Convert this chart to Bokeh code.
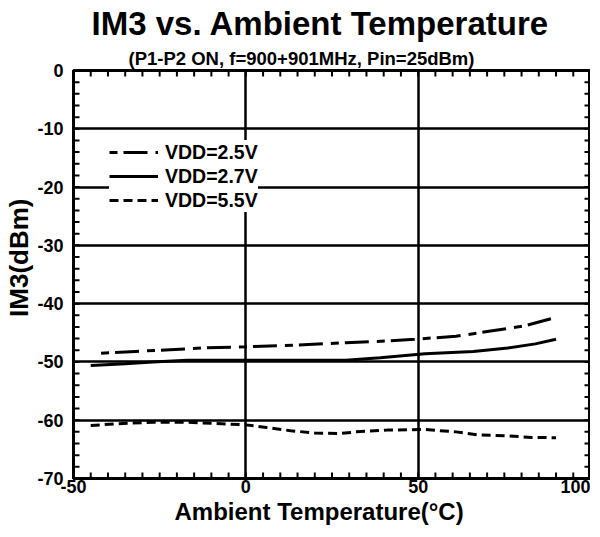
import math
from bokeh.plotting import figure
from bokeh.models import Title, Legend, LegendItem, Range1d, FixedTicker
from bokeh.embed import file_html
from bokeh.resources import INLINE

# ---- data ----
t25 = [-42, -32, -22, -12, 0, 15, 29, 41, 49, 61, 71, 81, 89]
v25 = [-48.5, -48.2, -47.9, -47.6, -47.4, -47.1, -46.7, -46.4, -46.1, -45.6, -44.7, -43.8, -42.5]
t27 = [-45, -35, -27, -17, 0, 29, 39, 52, 66, 76, 84, 90]
v27 = [-50.6, -50.3, -50.0, -49.7, -49.7, -49.7, -49.3, -48.6, -48.2, -47.6, -46.9, -46.1]
t55 = [-45, -37, -27, -17, -7, 0, 6, 13, 20, 27, 32, 41, 52, 61, 67, 76, 83, 90]
v55 = [-60.9, -60.6, -60.35, -60.35, -60.6, -60.8, -61.25, -61.8, -62.2, -62.3, -62.0,
       -61.7, -61.6, -62.0, -62.5, -62.7, -62.95, -63.0]
labels = ["VDD=2.5V", "VDD=2.7V", "VDD=5.5V"]
x_ticks = [-50, 0, 50, 100]
y_ticks = [0, -10, -20, -30, -40, -50, -60, -70]
x_minor = list(range(-50, 101, 5))
y_minor = list(range(-70, 1, 2))
x_lo, x_hi = -50, 100
y_lo, y_hi = -70, 0

FONT = "Liberation Sans"

p = figure(width=590, height=525, output_backend="svg", toolbar_location=None,
           title=None, x_range=Range1d(x_lo, x_hi), y_range=Range1d(y_lo, y_hi),
           min_border_left=72, min_border_right=0, min_border_bottom=0, min_border_top=2)
p.background_fill_color = "white"
p.border_fill_color = "white"
p.outline_line_color = "black"
p.outline_line_width = 3

xt = FixedTicker(ticks=x_ticks, minor_ticks=x_minor)
yt = FixedTicker(ticks=y_ticks, minor_ticks=y_minor)

for ax in (p.xaxis[0], p.yaxis[0]):
    ax.axis_line_width = 3
    ax.axis_line_color = "black"
    ax.major_tick_in = 0
    ax.major_tick_out = 0
    ax.minor_tick_in = 0
    ax.minor_tick_out = 0
    ax.major_label_text_font = FONT
    ax.major_label_text_font_style = "bold"
    ax.major_label_text_font_size = "18px"
    ax.major_label_text_color = "black"

xa = p.xaxis[0]
ya = p.yaxis[0]
xa.ticker = xt
ya.ticker = yt
xa.major_label_overrides = {t: str(t) for t in x_ticks}
ya.major_label_overrides = {t: str(t) for t in y_ticks}
xa.major_label_standoff = 1
ya.major_label_standoff = 10

# axis titles placed as side titles so they can be positioned like the reference
xlab = Title(text="Ambient Temperature(°C)", align="left", offset=101,
             text_font=FONT, text_font_style="bold", text_font_size="24px",
             text_color="black", standoff=1)
ylab = Title(text="IM3(dBm)", align="right", offset=128,
             text_font=FONT, text_font_style="bold", text_font_size="26px",
             text_color="black", standoff=2)
p.add_layout(xlab, "below")
p.add_layout(ylab, "left")

p.xgrid.ticker = xt
p.ygrid.ticker = yt
for g in (p.xgrid, p.ygrid):
    g.grid_line_color = "black"
    g.grid_line_width = 2.5
    g.grid_line_alpha = 1

# inward minor ticks on all four frame edges (clipped to the frame)
tick_kw = dict(marker="dash", size=12, line_color="black", line_width=2, fill_color=None)
p.scatter(x_minor, [y_lo] * len(x_minor), angle=math.pi / 2, **tick_kw)
p.scatter(x_minor, [y_hi] * len(x_minor), angle=math.pi / 2, **tick_kw)
p.scatter([x_lo] * len(y_minor), y_minor, angle=0, **tick_kw)
p.scatter([x_hi] * len(y_minor), y_minor, angle=0, **tick_kw)

r25 = p.line(t25, v25, line_color="black", line_width=3, line_dash="8 6 24 8")
r27 = p.line(t27, v27, line_color="black", line_width=3)
r55 = p.line(t55, v55, line_color="black", line_width=3, line_dash="9 5")

legend = Legend(items=[LegendItem(label=labels[0], renderers=[r25]),
                       LegendItem(label=labels[1], renderers=[r27]),
                       LegendItem(label=labels[2], renderers=[r55])],
                location=(36, 266))
legend.label_text_font = FONT
legend.label_text_font_style = "bold"
legend.label_text_font_size = "19.5px"
legend.label_text_color = "black"
legend.glyph_width = 49
legend.glyph_height = 24
legend.label_height = 24
legend.label_standoff = 7
legend.spacing = 0
legend.padding = 6
legend.margin = 0
legend.border_line_color = None
legend.background_fill_color = "white"
legend.background_fill_alpha = 1
p.add_layout(legend, "center")

sub = Title(text="(P1-P2 ON, f=900+901MHz, Pin=25dBm)", align="left", offset=55,
            text_font=FONT, text_font_style="bold", text_font_size="18.5px",
            text_color="black", standoff=4)
main = Title(text="IM3 vs. Ambient Temperature", align="left", offset=18,
             text_font=FONT, text_font_style="bold", text_font_size="33px",
             text_color="black", standoff=4)
p.add_layout(sub, "above")
p.add_layout(main, "above")

open("out.html", "w").write(file_html(p, INLINE))
